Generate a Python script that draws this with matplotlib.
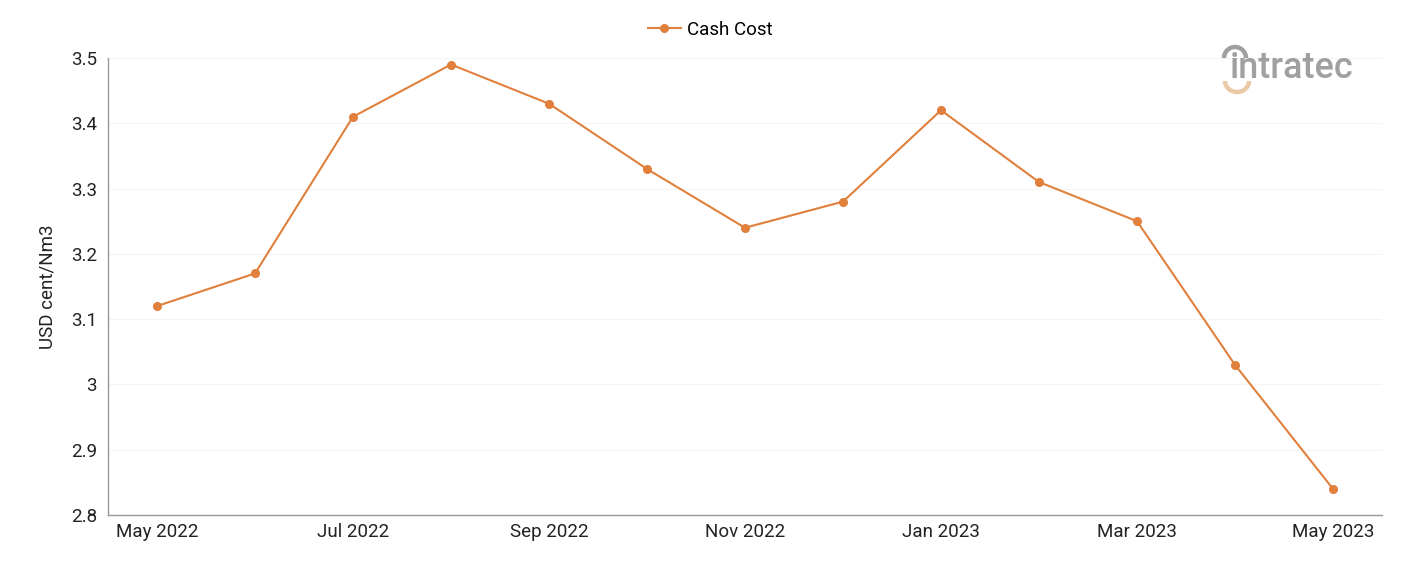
import matplotlib
matplotlib.use("Agg")
from matplotlib import pyplot as plt
from matplotlib.patches import Arc

plt.rcParams['font.family'] = ['Roboto', 'DejaVu Sans']

# Data
months = ['May 2022', 'Jun 2022', 'Jul 2022', 'Aug 2022', 'Sep 2022', 'Oct 2022',
          'Nov 2022', 'Dec 2022', 'Jan 2023', 'Feb 2023', 'Mar 2023', 'Apr 2023',
          'May 2023']
cash_cost = [3.12, 3.17, 3.41, 3.49, 3.43, 3.33, 3.24, 3.28, 3.42, 3.31, 3.25, 3.03, 2.84]
y_ticks = [2.8, 2.9, 3.0, 3.1, 3.2, 3.3, 3.4, 3.5]
y_tick_labels = ['2.8', '2.9', '3', '3.1', '3.2', '3.3', '3.4', '3.5']

orange = '#E0803C'
W, H = 1401, 561

fig = plt.figure(figsize=(W / 100, H / 100), dpi=100)
ax = fig.add_axes([108 / W, 46 / H, 1274 / W, 457 / H])

x = list(range(len(months)))
line, = ax.plot(x, cash_cost, color=orange, lw=1.5, marker='o', markersize=5.5,
                label='Cash Cost', zorder=3)

ax.set_xlim(-0.5, len(months) - 0.5)
ax.set_ylim(2.8, 3.5)
ax.set_yticks(y_ticks)
ax.set_yticklabels(y_tick_labels)
ax.set_xticks(x[::2])
ax.set_xticklabels(months[::2])
ax.tick_params(axis='both', length=0, labelsize=13.5, colors='#222222')
ax.tick_params(axis='x', pad=6)
ax.tick_params(axis='y', pad=8)

ax.grid(axis='y', color='#f4f4f4', lw=0.8)
ax.set_axisbelow(True)
for side in ['top', 'right']:
    ax.spines[side].set_visible(False)
for side in ['left', 'bottom']:
    ax.spines[side].set_color('#999999')
    ax.spines[side].set_linewidth(1)

ax.set_ylabel('USD cent/Nm3', fontsize=13.5, color='#222222', labelpad=10)

fig.legend(handles=[line], loc='center', bbox_to_anchor=(710 / W, 1 - 30 / H),
           frameon=False, fontsize=13.5, handlelength=1.8, handletextpad=0.3)

# logo approximation, drawn in a pixel-scaled helper axes
lg = fig.add_axes([1210 / W, 1 - 100 / H, 170 / W, 60 / H])
lg.set_xlim(1210, 1380)
lg.set_ylim(100, 40)
lg.axis('off')
lg.text(1230, 68, 'intratec', fontsize=26, color='#8f8f8f', fontweight='medium',
        ha='left', va='center', alpha=0.85)
lg.add_patch(Arc((1235, 58), 22, 22, theta1=180, theta2=360, color='#a0a0a0', lw=3.2))
lg.add_patch(Arc((1237, 81), 24, 22, theta1=0, theta2=180, color='#e9c9a6', lw=3.2))

fig.savefig('out.png', dpi=100)
